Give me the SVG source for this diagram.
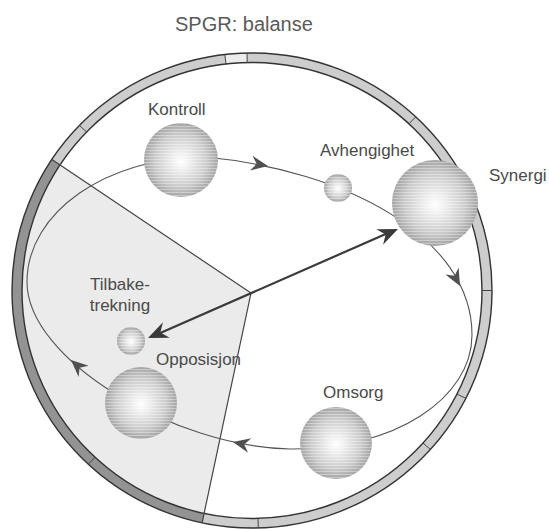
<svg xmlns="http://www.w3.org/2000/svg" width="549" height="529" viewBox="0 0 549 529">
  <defs>
    <radialGradient id="sph" cx="0.5" cy="0.5" r="0.5" fx="0.5" fy="0.52">
      <stop offset="0" stop-color="#ffffff"/>
      <stop offset="0.25" stop-color="#eeeeee"/>
      <stop offset="0.7" stop-color="#cbcbcb"/>
      <stop offset="1" stop-color="#a4a4a4"/>
    </radialGradient>
    <pattern id="stripes" width="4" height="3" patternUnits="userSpaceOnUse">
      <rect x="0" y="0" width="4" height="1" fill="#ffffff" opacity="0.35"/>
    </pattern>
    <path id="oh" d="M0,0 L-17,-7.5 L-11.5,0 L-17,7.5 Z"/>
    <path id="dh" d="M0,0 L-20,-8.5 L-13.5,0 L-20,8.5 Z"/>
  </defs>
  <style>
    .lbl { font-family: "Liberation Sans", Arial, sans-serif; font-size: 17px; fill: #4a4a4a; }
    .title { font-family: "Liberation Sans", Arial, sans-serif; font-size: 20px; fill: #5a5a5a; }
    .ringline { fill: none; stroke: #333; stroke-width: 1.4; }
    .tick { stroke: #444; stroke-width: 1; }
    .sector { stroke: #444; stroke-width: 1.2; fill: none; }
    .orbit { fill: none; stroke: #555; stroke-width: 1.1; }
    .oarrow { fill: #505050; }
    .darrow { fill: #3a3a3a; }
    .dline { stroke: #3a3a3a; stroke-width: 2.2; }
    .ball { fill: url(#sph); }
    .tex { fill: url(#stripes); }
  </style>

  <rect x="0" y="0" width="549" height="529" fill="#ffffff"/>

  <text class="title" x="175" y="31">SPGR: balanse</text>

  <g id="ring">
    <ellipse cx="252" cy="290.5" rx="240" ry="237.5" fill="#cdcdcd"/>
    <path d="M 51.9 159.4 A 240 237.5 0 0 0 202.1 522.8 L 204.2 513.5 A 230 228 0 0 1 60.2 164.7 Z" fill="#939393"/>
    <path d="M 224.8 54.5 A 240 237.5 0 0 1 247 53 L 247.2 62.5 A 230 228 0 0 0 226 64 Z" fill="#ececec"/>
    <ellipse cx="252" cy="290.5" rx="230" ry="228" fill="#ffffff"/>
    <path d="M 251 293 L 60.2 164.7 A 230 228 0 0 0 204.2 513.5 Z" fill="#ebebeb"/>
    <ellipse class="ringline" cx="252" cy="290.5" rx="240" ry="237.5"/>
    <ellipse class="ringline" cx="252" cy="290.5" rx="230" ry="228"/>
    <line class="tick" x1="224.8" y1="54.5" x2="226" y2="64"/>
    <line class="tick" x1="247" y1="53" x2="247.2" y2="62.5"/>
    <line class="tick" x1="415.7" y1="116.9" x2="408.9" y2="123.8"/>
    <line class="tick" x1="492" y1="290.5" x2="482" y2="290.5"/>
    <line class="tick" x1="465.8" y1="398.3" x2="456.9" y2="394"/>
    <line class="tick" x1="430.3" y1="449.4" x2="422.9" y2="443"/>
    <line class="tick" x1="258.3" y1="527.9" x2="258" y2="518.4"/>
    <line class="tick" x1="88.3" y1="464.1" x2="95.1" y2="457.2"/>
    <line class="tick" x1="79.4" y1="125.4" x2="86.6" y2="132"/>
    <path class="sector" d="M 51.9 159.4 L 251 293 L 202.1 522.8"/>
  </g>

  <g id="connectors">
    <path class="orbit" d="M 27 282 C 27 212 107 157 205 157 C 345 170 472 237 472 335 C 472 398 395 450 290 449 C 175 447 27 360 27 282 Z"/>
    <use href="#oh" class="oarrow" transform="translate(268,166) rotate(10)"/>
    <use href="#oh" class="oarrow" transform="translate(460,286) rotate(62)"/>
    <use href="#oh" class="oarrow" transform="translate(233,442) rotate(192)"/>
    <use href="#oh" class="oarrow" transform="translate(71,360) rotate(222)"/>
    <line class="dline" x1="158" y1="334" x2="388" y2="233"/>
    <use href="#dh" class="darrow" transform="translate(398,229) rotate(-23.6)"/>
    <use href="#dh" class="darrow" transform="translate(148,338) rotate(156.4)"/>
  </g>

  <g id="kontroll">
    <circle class="ball" cx="181" cy="160" r="37"/>
    <circle class="tex" cx="181" cy="160" r="37"/>
    <text class="lbl" x="148" y="115">Kontroll</text>
  </g>
  <g id="avhengighet">
    <circle class="ball" cx="338" cy="188" r="14"/>
    <circle class="tex" cx="338" cy="188" r="14"/>
    <text class="lbl" x="320" y="156">Avhengighet</text>
  </g>
  <g id="synergi">
    <circle class="ball" cx="435" cy="203" r="43"/>
    <circle class="tex" cx="435" cy="203" r="43"/>
    <text class="lbl" x="489" y="181">Synergi</text>
  </g>
  <g id="omsorg">
    <circle class="ball" cx="336" cy="443" r="36"/>
    <circle class="tex" cx="336" cy="443" r="36"/>
    <text class="lbl" x="323" y="398">Omsorg</text>
  </g>
  <g id="opposisjon">
    <circle class="ball" cx="141" cy="403" r="36"/>
    <circle class="tex" cx="141" cy="403" r="36"/>
    <text class="lbl" x="156" y="365">Opposisjon</text>
  </g>
  <g id="tilbaketrekning">
    <circle class="ball" cx="131" cy="341" r="14"/>
    <circle class="tex" cx="131" cy="341" r="14"/>
    <text class="lbl" x="120" y="290" text-anchor="middle">Tilbake-</text>
    <text class="lbl" x="120" y="311" text-anchor="middle">trekning</text>
  </g>
</svg>
